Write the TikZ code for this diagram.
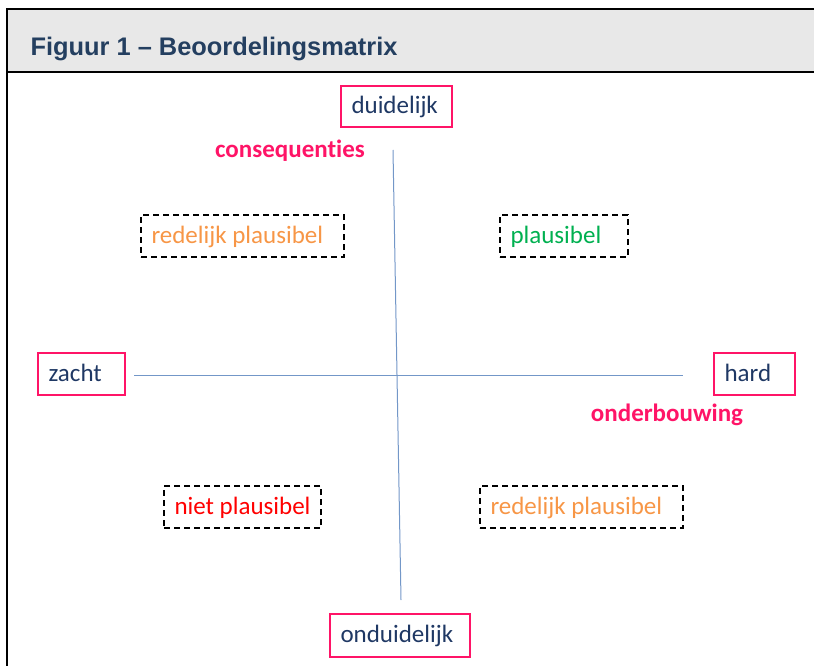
\documentclass[tikz,border=0pt]{standalone}
\usepackage{fontspec}
\setmainfont{Carlito}[Ligatures=NoCommon]
\newfontfamily\titlefont{Liberation Sans}
\definecolor{pinkc}{HTML}{FF1467}
\definecolor{navy}{HTML}{1F3864}
\definecolor{titleblue}{HTML}{243F60}
\definecolor{orangec}{HTML}{F79646}
\definecolor{greenc}{HTML}{00B050}
\definecolor{redc}{HTML}{FF0000}
\definecolor{axisc}{HTML}{7397C8}
\definecolor{barc}{HTML}{E8E8E8}
\tikzset{
  x=1pt, y=-1pt,
  basebox/.style={font=\fontsize{25}{30}\selectfont, inner xsep=10.5pt, inner ysep=0pt, align=flush left, anchor=center, text depth=3pt},
  axisbox/.style={basebox, draw=pinkc, line width=2.6pt, text=navy},
  ratebox/.style={basebox, draw=black, line width=1.4pt, dash pattern=on 6pt off 4pt},
  axislabel/.style={text=pinkc, font=\fontsize{25}{30}\selectfont\bfseries, anchor=center},
  axisline/.style={draw=axisc, line width=1pt}
}
\begin{document}
\begin{tikzpicture}
\useasboundingbox (0,0) rectangle (814,666);
% frame
\fill[barc] (7,9) rectangle (820,72);
\draw[line width=2.2pt] (820,9) -- (7,9) -- (7,670);
\draw[line width=2.2pt] (7,72) -- (820,72);
\node[anchor=base west, text=titleblue, font=\titlefont\bfseries\fontsize{25.4}{30}\selectfont] (title) at (27,56) {Figuur 1 – Beoordelingsmatrix};
% axis boxes
\node[axisbox, text width=90pt, minimum height=41pt] (top) at (396.5,106.5) {\mbox{duidelijk}};
\node[axisbox, text width=119pt, minimum height=43pt] (bot) at (400,635.5) {\mbox{onduidelijk}};
\node[axisbox, text width=66pt, minimum height=42pt] (left) at (81.5,374) {\mbox{zacht}};
\node[axisbox, text width=60pt, minimum height=42pt] (right) at (754.5,374) {\mbox{hard}};
% axis lines
\coordinate (vt) at (393,150);
\coordinate (vb) at (401,600);
\coordinate (hl) at (134,375);
\coordinate (hr) at (683,375);
\draw[axisline] (vt) -- (vb);
\draw[axisline] (hl) -- (hr);
% labels
\node[axislabel] (cons) at (290,151) {consequenties};
\node[axislabel] (onder) at (667,415) {onderbouwing};
% rating boxes
\node[ratebox, text=orangec, text width=182pt, minimum height=42pt] (rp1) at (242.5,236) {\mbox{redelijk plausibel}};
\node[ratebox, text=greenc, text width=107pt, minimum height=42pt] (pl) at (564,236) {\mbox{plausibel}};
\node[ratebox, text=redc, text width=136pt, minimum height=42pt] (np) at (242.5,507) {\mbox{niet plausibel}};
\node[ratebox, text=orangec, text width=182pt, minimum height=42pt] (rp2) at (581.5,507) {\mbox{redelijk plausibel}};
\end{tikzpicture}
\end{document}
